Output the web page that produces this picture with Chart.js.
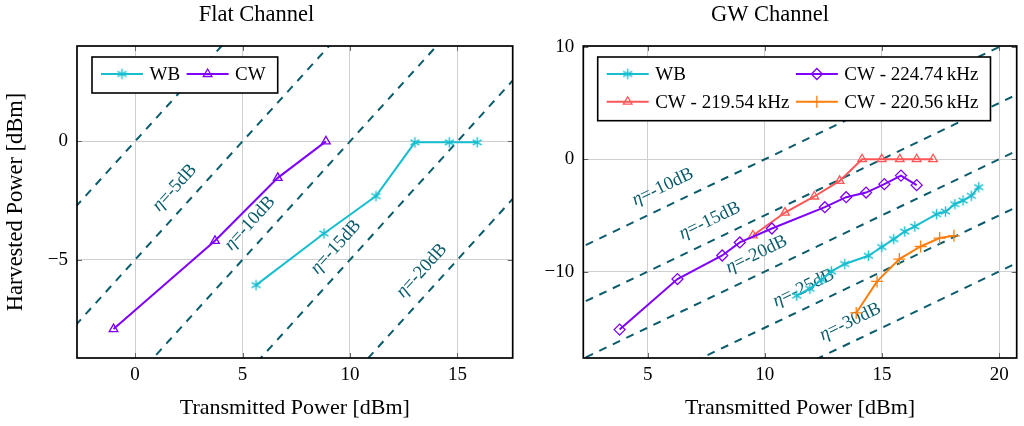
<!DOCTYPE html>
<html><head><meta charset="utf-8">
<script src="https://cdn.jsdelivr.net/npm/chart.js@4.4.1/dist/chart.umd.min.js"></script>
<style>
html,body{margin:0;padding:0;background:#fff;overflow:hidden}
#wrap{position:relative;width:1024px;height:426px;background:#fff}
canvas{position:absolute;top:0}
#c1{left:0}
#c2{left:520px}
</style></head><body>
<div id="wrap"><canvas id="c1" width="520" height="426"></canvas><canvas id="c2" width="504" height="426"></canvas></div>
<script>
// ---------- Flat channel data ----------
const flatTxWB = [5.63, 8.79, 11.21, 13.02, 14.62, 15.92];
const flatRxWB = [-6.07, -3.89, -2.31, -0.04, -0.04, -0.04];
const flatTxCW = [-1.0, 3.72, 6.64, 8.88];
const flatRxCW = [-7.93, -4.2, -1.54, 0.0];
const flatEtas = [0, -5, -10, -15, -20];
const flatEtaLabeled = [-5, -10, -15, -20];

// ---------- GW channel data ----------
const gwTxWB = [11.36, 11.92, 12.42, 12.84, 13.41, 14.42, 14.99, 15.50, 15.97, 16.40, 17.33, 17.71, 18.11, 18.46, 18.81, 19.13];
const gwRxWB = [-12.15, -11.53, -10.73, -9.99, -9.33, -8.60, -7.82, -7.11, -6.44, -5.99, -4.89, -4.66, -4.00, -3.68, -3.26, -2.49];
const gwTx224 = [3.80, 6.27, 8.18, 8.93, 10.30, 12.56, 13.47, 14.32, 15.10, 15.81, 16.48];
const gwRx224 = [-15.17, -10.67, -8.57, -7.41, -6.17, -4.27, -3.38, -2.97, -2.22, -1.46, -2.31];
const gwTx219 = [9.49, 10.86, 12.11, 13.19, 14.15, 14.99, 15.76, 16.48, 17.18];
const gwRx219 = [-6.79, -4.75, -3.32, -1.93, 0, 0, 0, 0, 0];
const gwTx220 = [13.90, 14.79, 15.74, 16.65, 17.46, 18.07];
const gwRx220 = [-13.69, -10.88, -8.89, -7.77, -7.02, -6.82];
const gwEtas = [-10, -15, -20, -25, -30];
const gwEtaLabeled = [-10, -15, -20, -25, -30];

// ---------- labels ----------
const titles = ['Flat Channel', 'GW Channel'];
const xTitle = 'Transmitted Power [dBm]';
const yTitle = 'Harvested Power [dBm]';
const flatNames = ['WB', 'CW'];
const gwNames = ['WB', 'CW - 224.74\u2009kHz', 'CW - 219.54\u2009kHz', 'CW - 220.56\u2009kHz'];

// ---------- style ----------
const FONT = '"Liberation Serif", "Times New Roman", serif';
const C_WB = '#17BECF', C_PUR = '#7F00FF', C_RED = '#FF5757', C_ORA = '#FF7F0E', C_ETA = '#0B5C6C';

function asterisk(color) {
  const c = document.createElement('canvas'); c.width = 13; c.height = 13;
  const g = c.getContext('2d'); g.strokeStyle = color; g.lineWidth = 1.4; g.lineCap = 'butt';
  const r = 5.2, cx = 6.5, cy = 6.5;
  for (let k = 0; k < 3; k++) {
    const a = Math.PI / 2 + k * Math.PI / 3;
    g.beginPath(); g.moveTo(cx - r * Math.cos(a), cy - r * Math.sin(a)); g.lineTo(cx + r * Math.cos(a), cy + r * Math.sin(a)); g.stroke();
  }
  return c;
}
const STAR = asterisk(C_WB);

const pts = (xs, ys) => xs.map((x, i) => ({x: x, y: ys[i]}));
function series(label, xs, ys, color, style, r) {
  return {label, data: pts(xs, ys), showLine: true, borderColor: color, backgroundColor: color,
    borderWidth: 2, pointStyle: style, pointRadius: r, pointBorderColor: color,
    pointBackgroundColor: 'rgba(0,0,0,0)', pointBorderWidth: 1.3};
}
function etaLines(etas) {
  return etas.map(e => ({label: 'eta' + e, data: [{x: -60, y: -60 + e}, {x: 60, y: 60 + e}], showLine: true,
    borderColor: C_ETA, borderWidth: 2, borderDash: [8, 7], pointRadius: 0}));
}

const decor = {
  id: 'decor',
  beforeDatasetsDraw(chart, args, o) {
    const {ctx, chartArea: a, scales: {x, y}} = chart;
    ctx.save();
    ctx.strokeStyle = '#666'; ctx.lineWidth = 1;
    x.ticks.forEach(t => { const p = Math.round(x.getPixelForValue(t.value)) + 0.5;
      ctx.beginPath(); ctx.moveTo(p, a.bottom); ctx.lineTo(p, a.bottom - 5); ctx.moveTo(p, a.top); ctx.lineTo(p, a.top + 5); ctx.stroke(); });
    y.ticks.forEach(t => { const p = Math.round(y.getPixelForValue(t.value)) + 0.5;
      ctx.beginPath(); ctx.moveTo(a.left, p); ctx.lineTo(a.left + 5, p); ctx.moveTo(a.right, p); ctx.lineTo(a.right - 5, p); ctx.stroke(); });
    ctx.beginPath(); ctx.rect(a.left, a.top, a.right - a.left, a.bottom - a.top); ctx.clip();
    ctx.fillStyle = C_ETA; ctx.textBaseline = 'middle';
    o.etaLabels.forEach((e, i) => {
      const fx = o.etaFeet[i];
      const px = x.getPixelForValue(fx), py = y.getPixelForValue(fx + e);
      const px2 = x.getPixelForValue(fx + 1), py2 = y.getPixelForValue(fx + 1 + e);
      const ang = Math.atan2(py2 - py, px2 - px);
      const cx = px + Math.sin(ang) * o.etaOff, cy = py - Math.cos(ang) * o.etaOff;
      ctx.save(); ctx.translate(cx, cy); ctx.rotate(ang);
      const f1 = 'italic 18.5px ' + FONT, f2 = '18.5px ' + FONT;
      const rest = '=-' + Math.abs(e) + 'dB';
      ctx.font = f1; const w1 = ctx.measureText('\u03B7').width;
      ctx.font = f2; const w2 = ctx.measureText(rest).width;
      const s = -(w1 + w2) / 2;
      ctx.textAlign = 'left';
      ctx.font = f1; ctx.fillText('\u03B7', s, 0);
      ctx.font = f2; ctx.fillText(rest, s + w1, 0);
      ctx.restore();
    });
    ctx.restore();
  },
  afterDatasetsDraw(chart, args, o) {
    const {ctx, chartArea: a} = chart;
    ctx.save();
    const L = o.legend, ds = chart.data.datasets;
    ctx.font = '19px ' + FONT;
    const rows = Math.ceil(L.items.length / L.cols);
    const colW = [];
    for (let c = 0; c < L.cols; c++) {
      let m = 0;
      for (let r = 0; r < rows; r++) { const k = r * L.cols + c; if (k < L.items.length) m = Math.max(m, ctx.measureText(ds[L.items[k]].label).width); }
      colW.push(42 + 6.5 + m + 6.5);
    }
    const bx = a.left + L.offX, by = a.top + L.offY;
    const bw = 9 + colW.reduce((p, q) => p + q, 0) + 5.5, bh = rows * 27.7 + 8.3;
    ctx.fillStyle = '#fff'; ctx.fillRect(bx, by, bw, bh);
    ctx.strokeStyle = '#000'; ctx.lineWidth = 1.6; ctx.strokeRect(bx, by, bw, bh);
    L.items.forEach((di, k) => {
      const r = Math.floor(k / L.cols), c = k % L.cols;
      let sx = bx + 9; for (let q = 0; q < c; q++) sx += colW[q];
      const sy = by + 17 + r * 27.7;
      const d = ds[di];
      ctx.strokeStyle = d.borderColor; ctx.lineWidth = 2; ctx.setLineDash([]);
      ctx.beginPath(); ctx.moveTo(sx, sy); ctx.lineTo(sx + 42, sy); ctx.stroke();
      ctx.fillStyle = 'rgba(0,0,0,0)'; ctx.lineWidth = d.pointBorderWidth;
      Chart.helpers.drawPoint(ctx, {pointStyle: d.pointStyle, radius: d.pointRadius, rotation: 0, borderWidth: d.pointBorderWidth}, sx + 21, sy);
      ctx.fillStyle = '#000'; ctx.textAlign = 'left'; ctx.textBaseline = 'middle';
      ctx.fillText(d.label, sx + 48.5, sy + 1);
    });
    ctx.strokeStyle = '#000'; ctx.lineWidth = 1.7;
    ctx.strokeRect(a.left, a.top, a.right - a.left, a.bottom - a.top);
    ctx.restore();
  }
};

function scaleOpts(xmin, xmax, ymin, ymax, xstep, ystep, showY, yw) {
  const tickFont = {family: FONT, size: 19};
  const minus = v => String(v).replace('-', '\u2212');
  return {
    x: {type: 'linear', min: xmin, max: xmax,
      ticks: {stepSize: xstep, includeBounds: false, color: '#000', font: tickFont, padding: 6, callback: minus, maxRotation: 0},
      grid: {color: '#cfcfcf', lineWidth: 1, drawTicks: false}, border: {display: false},
      title: {display: true, text: xTitle, color: '#000', font: {family: FONT, size: 22}, padding: {top: 0, bottom: 5}},
      afterFit: s => { s.height = 68; }},
    y: {type: 'linear', min: ymin, max: ymax,
      ticks: {stepSize: ystep, includeBounds: false, color: '#000', font: tickFont, padding: 9, callback: minus},
      grid: {color: '#cfcfcf', lineWidth: 1, drawTicks: false}, border: {display: false},
      title: {display: showY, text: yTitle, color: '#000', font: {family: FONT, size: 22.5}, padding: {top: 3, bottom: 0}},
      afterFit: s => { s.width = yw; }}
  };
}

function makeChart(id, title, datasets, scales, padRight, decorOpts) {
  return new Chart(document.getElementById(id), {
    type: 'scatter',
    data: {datasets},
    options: {
      responsive: false, animation: false, devicePixelRatio: 1, events: [],
      layout: {padding: {left: 0, right: padRight, top: 0, bottom: 0}},
      scales,
      plugins: {
        legend: {display: false}, tooltip: {enabled: false},
        title: {display: true, text: title, color: '#000', font: {family: FONT, size: 22.5, weight: 'normal'}, padding: {top: 2, bottom: 17}},
        decor: decorOpts
      }
    },
    plugins: [decor]
  });
}

makeChart('c1', titles[0], [
  series(flatNames[0], flatTxWB, flatRxWB, C_WB, STAR, 6),
  series(flatNames[1], flatTxCW, flatRxCW, C_PUR, 'triangle', 5),
  ...etaLines(flatEtas)
], scaleOpts(-2.7, 17.57, -9.15, 4.03, 5, 5, true, 77), 7, {
  etaLabels: flatEtaLabeled, etaFeet: [2.5, 6, 10, 14], etaOff: 19,
  legend: {items: [0, 1], cols: 2, offX: 15, offY: 11}
});

makeChart('c2', titles[1], [
  series(gwNames[0], gwTxWB, gwRxWB, C_WB, STAR, 6),
  series(gwNames[1], gwTx224, gwRx224, C_PUR, 'rectRot', 5.5),
  series(gwNames[2], gwTx219, gwRx219, C_RED, 'triangle', 5),
  series(gwNames[3], gwTx220, gwRx220, C_ORA, 'cross', 6),
  ...etaLines(gwEtas)
], scaleOpts(2.25, 20.75, -17.7, 10.08, 5, 10, false, 63.3), 4, {
  etaLabels: gwEtaLabeled, etaFeet: [6, 8, 10, 12, 14], etaOff: 19,
  legend: {items: [0, 1, 2, 3], cols: 2, offX: 14.4, offY: 11}
});
</script>
</body></html>
